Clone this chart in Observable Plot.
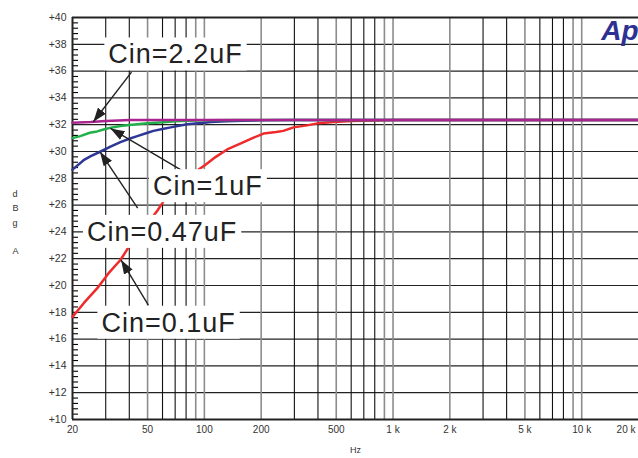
<!DOCTYPE html>
<html><head><meta charset="utf-8">
<script src="https://cdn.jsdelivr.net/npm/d3@7"></script>
<script src="https://cdn.jsdelivr.net/npm/@observablehq/plot@0.6"></script>
<style>
body{margin:0;background:#fff;}
#chart{width:638px;height:458px;overflow:hidden;}
svg text{font-family:"Liberation Sans",Arial,sans-serif;}
.annot text{letter-spacing:1px;}
</style></head><body><div id="chart"></div>
<script>
// ---- data ----
const hz22 = [20, 25, 30, 35, 40, 50, 100, 1000, 20000];
const db22 = [32.15, 32.2, 32.27, 32.32, 32.35, 32.35, 32.35, 32.35, 32.35];

const hz1 = [20, 22, 24.7, 27, 29.2, 32, 35.9, 40, 44.1, 50, 60.9, 70, 81, 100, 150, 20000];
const db1 = [31.0, 31.15, 31.4, 31.5, 31.64, 31.78, 31.9, 31.98, 32.04, 32.1, 32.19, 32.25, 32.3, 32.33, 32.35, 32.35];

const hz047 = [20, 22.9, 25, 28.2, 32, 35.9, 40, 44.1, 50, 53.7, 60, 66.3, 81, 100, 108, 130, 160, 200, 300, 20000];
const db047 = [28.65, 29.35, 29.65, 30.0, 30.38, 30.7, 30.95, 31.15, 31.4, 31.54, 31.68, 31.8, 32.04, 32.15, 32.2, 32.26, 32.3, 32.33, 32.35, 32.35];

const hz01 = [20, 23, 27, 31, 35.9, 39, 45, 50, 56.4, 60.9, 70, 80, 90, 101, 115, 134, 156, 180, 206, 240, 262, 297, 350, 399, 485, 600, 800, 1007, 20000];
const db01 = [17.66, 18.7, 19.78, 20.9, 21.9, 22.7, 23.8, 24.6, 25.6, 26.3, 27.2, 27.9, 28.5, 29.0, 29.6, 30.2, 30.6, 31.0, 31.34, 31.45, 31.54, 31.8, 31.95, 32.1, 32.2, 32.27, 32.32, 32.35, 32.35];

const annoLabels = ["Cin=2.2uF", "Cin=1uF", "Cin=0.47uF", "Cin=0.1uF"];
const annoHz = [70.3, 104.4, 59.7, 64.6];
const annoDb = [36.57, 26.74, 23.33, 16.55];

const arrowFromHz = [41.1, 78.3, 44.3, 50.5];
const arrowFromDb = [35.92, 28.48, 25.77, 18.53];
const arrowToHz = [25.8, 31.8, 28.0, 36.2];
const arrowToDb = [32.22, 31.72, 29.97, 21.9];

const xTicks = [20, 50, 100, 200, 500, 1000, 2000, 5000, 10000, 20000];
const xTickLabels = ["20", "50", "100", "200", "500", "1 k", "2 k", "5 k", "10 k", "20 k"];
const yTicks = [10, 12, 14, 16, 18, 20, 22, 24, 26, 28, 30, 32, 34, 36, 38, 40];
const yGrid = [12, 14, 16, 18, 20, 22, 24, 26, 28, 30, 32, 34, 36, 38];
const xGridBlack = [30, 40, 60, 70, 80, 300, 400, 600, 700, 800, 3000, 4000, 6000, 7000, 8000];
const xGridGray = [50, 90, 100, 200, 500, 900, 1000, 2000, 5000, 9000, 10000];
const minorTicks = [10.4, 10.8, 11.2, 11.6, 12.4, 12.8, 13.2, 13.6, 14.4, 14.8, 15.2, 15.6, 16.4, 16.8, 17.2, 17.6,
  18.4, 18.8, 19.2, 19.6, 20.4, 20.8, 21.2, 21.6, 22.4, 22.8, 23.2, 23.6, 24.4, 24.8, 25.2, 25.6, 26.4, 26.8, 27.2, 27.6,
  28.4, 28.8, 29.2, 29.6, 30.4, 30.8, 31.2, 31.6, 32.4, 32.8, 33.2, 33.6, 34.4, 34.8, 35.2, 35.6, 36.4, 36.8, 37.2, 37.6,
  38.4, 38.8, 39.2, 39.6];

// ---- build ----
const W = 638, H = 458, mL = 72, mT = 17, mB = 39, mR = 0;
const toRows = (hz, db) => hz.map((h, i) => ({hz: h, db: db[i]}));
const annos = annoLabels.map((l, i) => ({label: l, hz: annoHz[i], db: annoDb[i]}));
const arrows = annoLabels.map((l, i) => ({x1: arrowFromHz[i], y1: arrowFromDb[i], x2: arrowToHz[i], y2: arrowToDb[i]}));
const xRows = xTicks.map((v, i) => ({v, label: xTickLabels[i]}));
// minor tick length of 6px expressed on the log x scale (20 Hz .. 20 kHz across the frame)
const minorEnd = 20 * Math.pow(1000, 6 / (W - mL - mR));

const svg = Plot.plot({
  width: W, height: H,
  marginLeft: mL, marginTop: mT, marginBottom: mB, marginRight: mR,
  style: {fontFamily: "Liberation Sans, Arial, sans-serif", background: "white", overflow: "visible"},
  x: {type: "log", domain: [20, 20000], axis: null},
  y: {domain: [10, 40], axis: null},
  marks: [
    Plot.ruleY(yGrid, {stroke: "#222", strokeWidth: 1.2}),
    Plot.ruleX(xGridBlack, {stroke: "#111", strokeWidth: 1.1}),
    Plot.ruleX(xGridGray, {stroke: "#8c8c8c", strokeWidth: 1.6}),
    Plot.ruleY(minorTicks, {y: d => d, x1: 20, x2: minorEnd, stroke: "#000", strokeWidth: 1.1}),
    Plot.ruleY([10, 40], {stroke: "#222", strokeWidth: 2}),
    Plot.ruleX([20], {stroke: "#222", strokeWidth: 2}),
    Plot.line(toRows(hz01, db01), {x: "hz", y: "db", stroke: "#ee2a2a", strokeWidth: 2.5}),
    Plot.line(toRows(hz047, db047), {x: "hz", y: "db", stroke: "#2e3796", strokeWidth: 2.5}),
    Plot.line(toRows(hz1, db1), {x: "hz", y: "db", stroke: "#22b04b", strokeWidth: 2.5}),
    Plot.line(toRows(hz22, db22), {x: "hz", y: "db", stroke: "#aa2390", strokeWidth: 2.5}),
    Plot.link(arrows, {x1: "x1", y1: "y1", x2: "x2", y2: "y2", stroke: "#222", strokeWidth: 1.4}),
    Plot.text(annos, {x: "hz", y: "db", text: "label", fontSize: 27, lineAnchor: "bottom", fill: "#222"}),
    Plot.axisY({ticks: yTicks, tickFormat: d => "+" + d, tickSize: 0, tickPadding: 6, fontSize: 10.5, label: null, color: "#333"}),
    Plot.text(xRows.slice(0, -1), {x: "v", text: "label", frameAnchor: "bottom", dy: 13, fontSize: 10, fill: "#333"}),
    Plot.text(xRows.slice(-1), {x: "v", text: "label", frameAnchor: "bottom", dy: 13, fontSize: 10, fill: "#333", textAnchor: "end", dx: -3}),
    Plot.text(["Hz"], {frameAnchor: "bottom", dy: 33, fontSize: 9, fill: "#333"}),
    Plot.text(["d\nB\ng\n\nA"], {frameAnchor: "left", dx: -60, dy: 2.5, fontSize: 9, lineHeight: 1.6, fill: "#333"}),
    Plot.text(["Ap"], {frameAnchor: "top-right", textAnchor: "end", lineAnchor: "bottom", dy: 22, dx: 0, fontSize: 28, fontWeight: "bold", fontStyle: "italic", fill: "#2e3192"})
  ]
});
document.getElementById("chart").append(svg);

// filled arrowheads and white label boxes
const ns = "http://www.w3.org/2000/svg";
const defs = document.createElementNS(ns, "defs");
defs.innerHTML = '<marker id="ah" viewBox="0 0 14 10" refX="14" refY="5" markerWidth="14" markerHeight="10" markerUnits="userSpaceOnUse" orient="auto"><path d="M0,0L14,5L0,10Z" fill="#222"/></marker>';
svg.prepend(defs);
const linkG = svg.querySelector('g[aria-label="link"]');
if (linkG) linkG.querySelectorAll("path").forEach(p => p.setAttribute("marker-end", "url(#ah)"));
const ag = svg.querySelectorAll('g[aria-label="text"]')[0];
if (ag) {
  ag.classList.add("annot");
  ag.querySelectorAll("text").forEach(t => {
    const b = t.getBBox();
    const r = document.createElementNS(ns, "rect");
    r.setAttribute("x", b.x - 4);
    r.setAttribute("y", b.y - 2);
    r.setAttribute("width", b.width + 8);
    r.setAttribute("height", b.height + 3);
    r.setAttribute("fill", "white");
    const tr = t.getAttribute("transform");
    if (tr) r.setAttribute("transform", tr);
    t.before(r);
  });
}
</script></body></html>
